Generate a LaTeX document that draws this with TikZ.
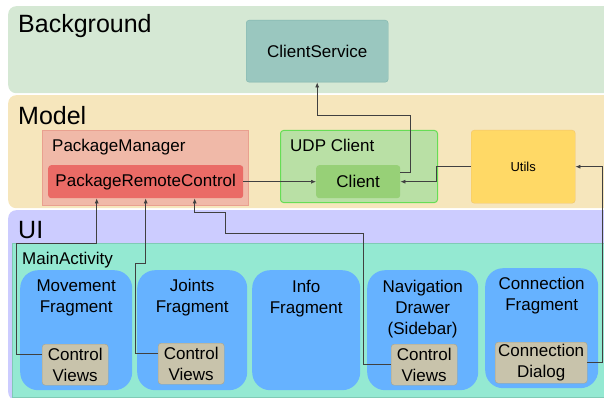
\documentclass[tikz,border=0pt]{standalone}
\usepackage{fontspec}
\setmainfont{Liberation Sans}
\usetikzlibrary{positioning,arrows.meta}
\definecolor{bgfill}{HTML}{D5E8D4}
\definecolor{modelfill}{HTML}{F6E6BC}
\definecolor{uifill}{HTML}{CCCCFF}
\definecolor{actfill}{HTML}{94E9D2}
\definecolor{actline}{HTML}{7FCBB5}
\definecolor{servfill}{HTML}{9AC7BF}
\definecolor{servline}{HTML}{80B5AD}
\definecolor{pmfill}{HTML}{F0B9A8}
\definecolor{pmline}{HTML}{E9A08F}
\definecolor{prcfill}{HTML}{EA6B66}
\definecolor{udpfill}{HTML}{B9E0A5}
\definecolor{udpline}{HTML}{66DD55}
\definecolor{clientfill}{HTML}{97D077}
\definecolor{utilfill}{HTML}{FFD966}
\definecolor{utilline}{HTML}{F2C46A}
\definecolor{fragfill}{HTML}{66B2FF}
\definecolor{cvfill}{HTML}{C8C3AB}
\definecolor{cvline}{HTML}{A8A38C}
\tikzset{
  panel/.style={anchor=north west, inner sep=0pt, rounded corners=8pt},
  box/.style={anchor=north west, inner sep=0pt, rounded corners=3pt, align=center,
    font=\fontsize{17}{21}\selectfont},
  frag/.style={anchor=north west, inner sep=0pt, rounded corners=18pt, fill=fragfill,
    minimum height=120pt},
  fragtxt/.style={anchor=north, inner sep=0pt, align=center, font=\fontsize{17}{21}\selectfont},
  cview/.style={box, fill=cvfill, draw=cvline, minimum height=41pt},
  title/.style={anchor=base west, inner sep=0pt, font=\fontsize{25}{28}\selectfont},
  tag/.style={anchor=base west, inner sep=0pt, font=\fontsize{17}{21}\selectfont},
  wire/.style={draw=black!75, line width=0.7pt, -{Latex[length=5pt,width=4pt]}}
}
\begin{document}
\begin{tikzpicture}[x=1pt,y=-1pt]
  \useasboundingbox (0,0) rectangle (604,398);
  % layers
  \node[panel, fill=bgfill, minimum width=604pt, minimum height=87pt] (bg) at (8,6) {};
  \node[panel, fill=modelfill, minimum width=604pt, minimum height=113pt] (model) at (8,95) {};
  \node[panel, fill=uifill, minimum width=604pt, minimum height=190pt] (ui) at (8,210) {};
  \node[title] (bgtitle) at (18,33) {Background};
  \node[title] (modeltitle) at (18,125) {Model};
  \node[title] (uititle) at (18,238) {UI};
  % background
  \node[box, fill=servfill, draw=servline, minimum width=142pt, minimum height=62pt] (service) at (246,20) {ClientService};
  % model
  \node[box, fill=pmfill, draw=pmline, rounded corners=0pt, minimum width=206pt, minimum height=75pt] (pm) at (42,130) {};
  \node[tag] (pmtag) at (52,152) {PackageManager};
  \node[box, fill=prcfill, minimum width=195pt, minimum height=33pt] (prc) at (48,165) {PackageRemoteControl};
  \node[box, fill=udpfill, draw=udpline, line width=1pt, minimum width=157pt, minimum height=72pt] (udp) at (280,130) {};
  \node[tag] (udptag) at (290,152) {UDP Client};
  \node[box, fill=clientfill, minimum width=84pt, minimum height=33pt] (client) at (316,165) {Client};
  \node[box, fill=utilfill, draw=utilline, font=\fontsize{13}{15}\selectfont, minimum width=104pt, minimum height=73pt] (utils) at (471,130) {Utils};
  % ui
  \node[panel, rounded corners=0pt, fill=actfill, draw=actline, minimum width=600pt, minimum height=154pt] (act) at (12,243) {};
  \node[tag] (acttag) at (22,264) {MainActivity};
  \node[frag, minimum width=112pt] (move) at (20,270) {};
  \node[frag, minimum width=110pt] (joint) at (137,270) {};
  \node[frag, minimum width=108pt] (info) at (252,270) {};
  \node[frag, minimum width=111pt] (nav) at (367,270) {};
  \node[frag, minimum width=113pt] (conn) at (485,268) {};
  \node[fragtxt, below=10pt of move.north] (movetxt) {Movement\\Fragment};
  \node[fragtxt, below=9pt of joint.north] (jointtxt) {Joints\\Fragment};
  \node[fragtxt, below=10pt of info.north] (infotxt) {Info\\Fragment};
  \node[fragtxt, below=10pt of nav.north] (navtxt) {Navigation\\Drawer\\(Sidebar)};
  \node[fragtxt, below=9pt of conn.north] (conntxt) {Connection\\Fragment};
  \node[cview, minimum width=66pt] (movecv) at (42,344) {Control\\Views};
  \node[cview, minimum width=66pt] (jointcv) at (158,343) {Control\\Views};
  \node[cview, minimum width=66pt] (navcv) at (391,344) {Control\\Views};
  \node[cview, minimum width=92pt] (dialog) at (495,342) {Connection\\Dialog};
  % connectors
  \coordinate (pin1) at ([xshift=-49pt]prc.south);
  \coordinate (pin3) at ([xshift=49pt]prc.south);
  \draw[wire] (prc.east) -- (client.west);
  \draw[wire] ([yshift=9pt]client.east) -- ++(10,0) |- (service.south |- 0,115) -- (service.south);
  \draw[wire] (utils.west) -- ++(-35,0) |- (client.east);
  \draw[wire] (dialog.east) -- ++(15,0) |- (utils.east);
  \draw[wire] ([yshift=10pt]movecv.west) -- ++(-26,0) |- (pin1 |- 0,243) -- (pin1);
  \draw[wire] ([yshift=10pt]jointcv.west) -- ++(-23,0) |- (prc.south |- 0,263) -- (prc.south);
  \draw[wire] (navcv.west) -- ++(-28,0) |- (225,233) |- (pin3 |- 0,212) -- (pin3);
\end{tikzpicture}
\end{document}
